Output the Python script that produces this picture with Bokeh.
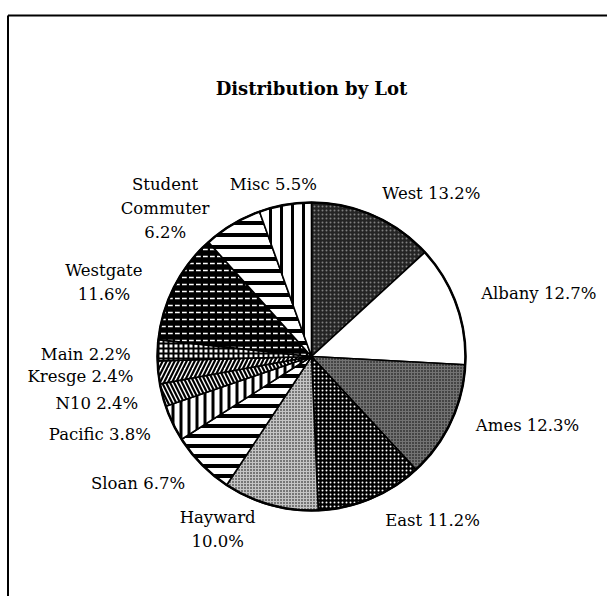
import numpy as np
from bokeh.plotting import figure
from bokeh.models import Range1d, Label, ColumnDataSource
from bokeh.core.properties import value
from bokeh.embed import file_html
from bokeh.resources import INLINE

# ---------------- data ----------------
title_text = "Distribution by Lot"
lots = ["West", "Albany", "Ames", "East", "Hayward", "Sloan", "Pacific",
        "N10", "Kresge", "Main", "Westgate", "Student Commuter", "Misc"]
shares = [13.2, 12.7, 12.3, 11.2, 10.0, 6.7, 3.8, 2.4, 2.4, 2.2, 11.6, 6.2, 5.5]

# ---------------- styles / layout ----------------
W, H = 607, 596
cx, cy, R = 311, 240, 154          # pie centre / radius (screen px)
label_r = 176
label_names = ["West", "Albany", "Ames", "East", "Hayward\n", "Sloan", "Pacific",
               "N10", "Kresge", "Main", "Westgate\n", "Student\nCommuter\n", "Misc"]
aligns = ["left", "left", "left", "left", "center", "right", "right", "right",
          "right", "right", "center", "center", "center"]
offs = [(0, -2), (4, -3), (5, -6), (6, 2), (-47, 3), (-1, 4), (-2, 2),
        (-3, 3), (-3, 2), (-5, 5), (-51, 6), (-56, 3), (-8, 1)]
fills = ["#242424", "white", "#737373", "black", "#c4c4c4", "white", "white",
         "white", "white", "white", "black", "white", "white"]
hatches = [".", " ", ".", ".", ".", "-", "|", "\\", "/", "+", '"', "-", "|"]
hcolors = ["#808080", "black", "black", "white", "black", "black", "black",
           "black", "black", "black", "white", "black", "black"]
hscales = [4, 12, 3, 4, 3, 10, 8, 8, 8, 5, 7, 12, 11]
hweights = [1, 1, 1, 1, 1, 4, 3, 2.2, 2.2, 2, 1.5, 4, 3]
FONT = "DejaVu Serif"

# ---------------- geometry from data ----------------
vals = np.array(shares, dtype=float)
frac = vals / vals.sum()
cum_end = np.cumsum(frac) * 360.0
cum_start = cum_end - frac * 360.0
mid = (cum_start + cum_end) / 2.0
# clockwise from top -> bokeh angle (ccw from +x)
start_ang = np.radians(90.0 - cum_start)
end_ang = np.radians(90.0 - cum_end)

src = ColumnDataSource(dict(
    x=[cx] * len(vals), y=[cy] * len(vals),
    start=start_ang, end=end_ang, fill=fills, hatch=hatches,
    hcol=hcolors, hsc=hscales, hw=hweights))

lab_x = cx + label_r * np.sin(np.radians(mid))
lab_y = cy + label_r * np.cos(np.radians(mid))
lab_txt = [f"{n}{'' if n.endswith(chr(10)) else ' '}{v:.1f}%" for n, v in zip(label_names, shares)]
lsrc = ColumnDataSource(dict(
    x=lab_x, y=lab_y, t=lab_txt, a=aligns,
    xo=[o[0] for o in offs], yo=[o[1] for o in offs]))

p = figure(width=W, height=H, output_backend="svg", toolbar_location=None,
           x_range=Range1d(0, W), y_range=Range1d(0, H), min_border=0)
p.axis.visible = False
p.grid.visible = False
p.outline_line_color = None
p.background_fill_color = "white"
p.border_fill_color = "white"

# frame lines (top and left)
p.segment(x0=[7.5, 7.5], y0=[H - 15, H - 15], x1=[W, 7.5], y1=[H - 15, 0],
          line_color="black", line_width=2)

p.wedge(x="x", y="y", radius=R, start_angle="start", end_angle="end",
        direction="clock", source=src, fill_color="fill",
        hatch_pattern="hatch", hatch_color="hcol", hatch_scale="hsc",
        hatch_weight="hw", line_color="black", line_width=1.6)
p.circle(x=[cx], y=[cy], radius=R, fill_color=None, line_color="black", line_width=2.5)

p.text(x="x", y="y", text="t", source=lsrc, text_align="a",
       text_baseline="middle", x_offset="xo", y_offset="yo",
       text_font=value(FONT), text_font_size="16.5px", text_color="black",
       text_line_height=1.27)

p.add_layout(Label(x=cx, y=cy + 268, text=title_text, text_align="center",
                   text_baseline="middle", text_font=FONT, text_font_size="18px",
                   text_font_style="bold", text_color="black"))

open("out.html", "w").write(file_html(p, INLINE))
